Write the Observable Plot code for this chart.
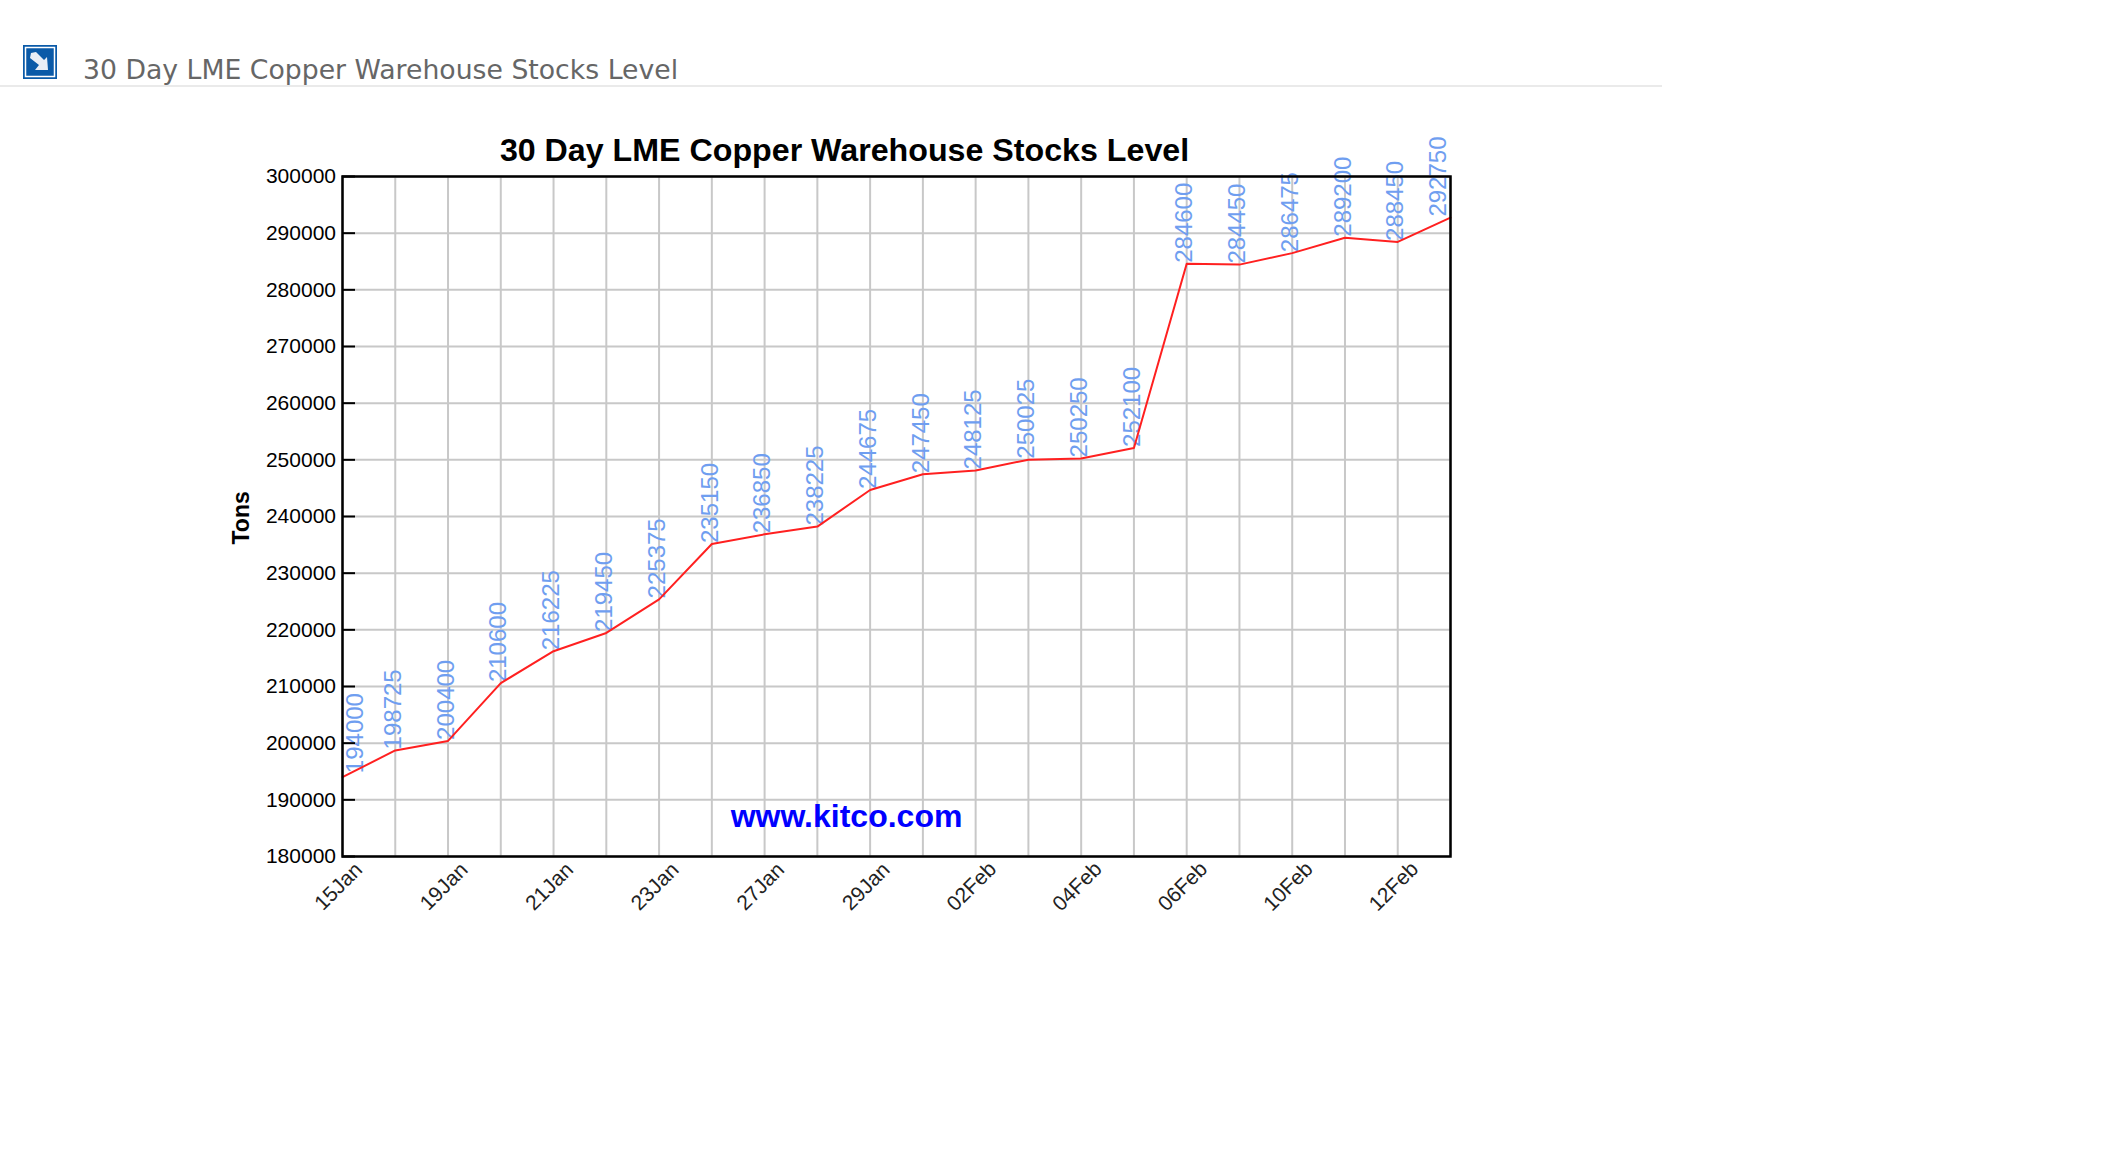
<!DOCTYPE html>
<html><head><meta charset="utf-8">
<script src="https://cdn.jsdelivr.net/npm/d3@7"></script>
<script src="https://cdn.jsdelivr.net/npm/@observablehq/plot@0.6"></script>
<style>
html,body{margin:0;padding:0;background:#fff;overflow:hidden}
#head{position:relative;height:88px;width:2102px}
#head .t{position:absolute;left:83px;top:54px;font:26.7px "DejaVu Sans",sans-serif;color:#666;white-space:nowrap}
#head .r{position:absolute;left:0;top:85px;width:1662px;height:2px;background:#eaeaea}
#head svg{position:absolute;left:23px;top:45px}
svg{display:block}
</style></head><body>
<div id="head">
<svg width="34" height="34" viewBox="0 0 34 34"><rect width="34" height="34" fill="#0a5aa8"/><rect x="2.5" y="2.5" width="29" height="29" fill="none" stroke="#fff" stroke-width="1.5"/><path d="M8 8L13 7L21 15L24 12L25 25L12 25L16 20L7 13Z" fill="#e8eef6"/></svg>
<div class="t">30 Day LME Copper Warehouse Stocks Level</div><div class="r"></div>
</div>
<div id="chart"></div>
<script>
const dates = ["15Jan","16Jan","19Jan","20Jan","21Jan","22Jan","23Jan","26Jan","27Jan","28Jan","29Jan","30Jan","02Feb","03Feb","04Feb","05Feb","06Feb","09Feb","10Feb","11Feb","12Feb","13Feb"];
const stocks = [194000,198725,200400,210600,216225,219450,225375,235150,236850,238225,244675,247450,248125,250025,250250,252100,284600,284450,286475,289200,288450,292750];
const tickDates = ["15Jan","19Jan","21Jan","23Jan","27Jan","29Jan","02Feb","04Feb","06Feb","10Feb","12Feb"];
const yTicks = [180000,190000,200000,210000,220000,230000,240000,250000,260000,270000,280000,290000,300000];
const rows = dates.map((d,i)=>({d,v:stocks[i]}));
const sans = "Liberation Sans";
const valueLabel = (data,dx,dy)=>Plot.text(data,{x:"d",y:"v",text:d=>String(d.v),rotate:-90,textAnchor:"start",lineAnchor:"middle",fill:"#6f9ef0",fontSize:24,fontFamily:sans,dx,dy});
const plot = Plot.plot({
  width:2102,height:850,marginLeft:342,marginRight:652,marginTop:88,marginBottom:82,
  style:{background:"#fff",fontFamily:sans},
  x:{type:"point",domain:dates,padding:0,round:false},
  y:{domain:[180000,300000]},
  marks:[
    Plot.gridX(dates,{stroke:"#c8c8c8",strokeOpacity:1,strokeWidth:2}),
    Plot.gridY(yTicks,{stroke:"#c8c8c8",strokeOpacity:1,strokeWidth:2}),
    valueLabel(rows.slice(1,-1),-2,-1),
    valueLabel(rows.slice(0,1),13,-4),
    valueLabel(rows.slice(-1),-12,-1),
    Plot.line(rows,{x:"d",y:"v",stroke:"#ff2020",strokeWidth:2,curve:"linear"}),
    Plot.frame({stroke:"#000",strokeWidth:2.5}),
    Plot.axisY({ticks:yTicks,tickFormat:d=>String(d),tickSize:-13,tickPadding:19.5,stroke:"#000",strokeWidth:2,fill:"#000",fontSize:21,label:null}),
    Plot.axisX({ticks:tickDates,tickSize:0,tickRotate:-45,textAnchor:"middle",lineAnchor:"middle",tickPadding:30,dx:-4,fontSize:21,fill:"#222",label:null}),
    Plot.text(["30 Day LME Copper Warehouse Stocks Level"],{frameAnchor:"top",dy:-26,dx:-52,text:d=>d,fontSize:32.2,fontWeight:"bold",fill:"#000",lineAnchor:"middle"}),
    Plot.text(["www.kitco.com"],{frameAnchor:"bottom",dy:-40,dx:-50,text:d=>d,fontSize:32,fontWeight:"bold",fill:"#0000ff",lineAnchor:"middle"}),
    Plot.text(["Tons"],{frameAnchor:"left",dx:-101,dy:28,rotate:-90,text:d=>d,fontSize:23,fontWeight:"bold",fontFamily:sans,fill:"#000"})
  ]
});
document.getElementById("chart").append(plot);
</script></body></html>
